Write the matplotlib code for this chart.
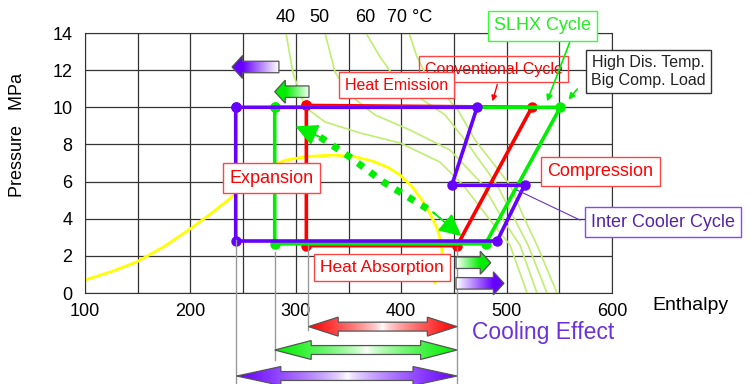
import numpy as np
import matplotlib
matplotlib.use('Agg')
import matplotlib.pyplot as plt
from matplotlib.patches import Polygon
from matplotlib.colors import LinearSegmentedColormap

plt.rcParams['font.family'] = ['Liberation Sans', 'DejaVu Sans']

RED = '#ff0000'
GREEN = '#00ee00'
PURPLE = '#6600ff'
ISO = '#bfee70'

# cycles: enthalpy (kJ/kg) and pressure (MPa)
conv_h = [310, 310, 453, 524, 310]
conv_p = [10.1, 2.55, 2.55, 10.0, 10.1]
slhx_h = [280, 280, 480, 551, 280]
slhx_p = [10.0, 2.65, 2.65, 10.0, 10.0]
ic_h = [243, 243, 491, 517, 448, 472, 243]
ic_p = [10.0, 2.8, 2.8, 5.8, 5.8, 10.0, 10.0]

# internal heat exchanger (dotted)
hx_h = [301, 323, 351, 383, 430, 456]
hx_p = [8.94, 8.4, 7.33, 5.98, 4.36, 3.12]

# saturation dome
dome_h = [100, 125, 149, 175, 201, 220, 240, 255, 273, 290, 311, 335, 355,
          373, 388, 399, 410, 421, 428, 434, 438, 439, 437, 432]
dome_p = [0.7, 1.15, 1.67, 2.5, 3.5, 4.3, 5.2, 5.95, 6.75, 7.15, 7.35, 7.43,
          7.35, 7.1, 6.75, 6.35, 5.75, 4.9, 4.2, 3.5, 2.7, 2.0, 1.0, 0.54]

# isotherms 40/50/60/70 C
iso_names = ['40', '50', '60', '70 °C']
iso_label_h = [281, 312.5, 356, 386.5]
iso40_h = [290.7, 297.3, 308.7, 327.7, 360.9, 398.9, 436.8, 458.6, 484.3, 503.2, 519.4]
iso40_p = [14.0, 11.85, 10.02, 9.21, 8.62, 8.08, 7.05, 5.82, 3.93, 2.58, 0.0]
iso50_h = [327.7, 337.2, 351.4, 375.1, 408.3, 446.3, 477.6, 496.6, 512.7, 528.8]
iso50_p = [14.0, 11.9, 10.66, 9.59, 8.78, 7.70, 5.82, 3.93, 2.58, 0.0]
iso60_h = [366.6, 379.9, 394.1, 417.8, 441.6, 460.5, 490.9, 508.0, 520.3, 538.3]
iso60_p = [14.0, 12.71, 11.58, 10.5, 9.59, 8.24, 5.82, 3.93, 2.58, 0.0]
iso70_h = [407.4, 415.0, 424.5, 439.7, 453.9, 470.0, 503.2, 517.5, 528.8, 547.8]
iso70_p = [14.0, 12.71, 11.63, 10.77, 9.85, 8.24, 5.82, 3.93, 2.58, 0.0]

# block arrows inside the chart: tail h, tip h, pressure
blk_tail = [284, 312.5, 452, 452]
blk_tip = [239.5, 280, 485, 497.5]
blk_p = [12.17, 10.84, 1.63, 0.52]
blk_col = [PURPLE, GREEN, GREEN, PURPLE]

# cooling effect arrows below the chart
ce_left = [312, 280, 244]
ce_right = [453, 453, 453]
ce_p = [-1.81, -3.07, -4.47]
ce_col = [RED, GREEN, PURPLE]

# guide lines
guide_h = [243, 280, 312, 453]
guide_top = [2.85, 2.22, 2.58, 2.5]
guide_bot = [-5.0, -3.6, -2.0, -5.0]

fig = plt.figure(figsize=(7.5, 3.84), dpi=100)
ax = fig.add_axes([85 / 750, 1 - 293 / 384, 527 / 750, 260 / 384])


def grad_fill(verts, xs, vals, color, y0, y1, z=5):
    cmap = LinearSegmentedColormap.from_list('g', ['white', color])
    poly = Polygon(verts, closed=True, facecolor='none', edgecolor='#555555',
                   lw=0.9, clip_on=False, zorder=z + 1)
    ax.add_patch(poly)
    im = ax.imshow(vals[np.newaxis, :], cmap=cmap, vmin=0, vmax=1,
                   extent=[xs[0], xs[-1], y0, y1], aspect='auto',
                   interpolation='bilinear', zorder=z)
    im.set_clip_path(poly)
    im.set_clip_box(fig.bbox)


def single_arrow(tail, tip, y, color):
    sh, hh, hl = 0.31, 0.62, 10
    d = np.sign(tip - tail)
    neck = tip - d * hl
    verts = [(tail, y + sh), (neck, y + sh), (neck, y + hh), (tip, y),
             (neck, y - hh), (neck, y - sh), (tail, y - sh)]
    xs = np.linspace(min(tail, tip), max(tail, tip), 200)
    vals = np.clip((xs - tail) / (neck - tail), 0, 1)
    grad_fill(verts, xs, vals, color, y - hh, y + hh)


def double_arrow(left, right, y, color):
    sh, hh = 0.24, 0.51
    hl = 0.2 * (right - left)
    verts = [(left, y), (left + hl, y + hh), (left + hl, y + sh),
             (right - hl, y + sh), (right - hl, y + hh), (right, y),
             (right - hl, y - hh), (right - hl, y - sh), (left + hl, y - sh),
             (left + hl, y - hh)]
    xs = np.linspace(left, right, 200)
    c = (left + right) / 2
    vals = (np.abs(xs - c) / (c - left)) ** 0.7
    grad_fill(verts, xs, vals, color, y - hh, y + hh)


# isotherms and dome
for hh_, pp_ in [(iso40_h, iso40_p), (iso50_h, iso50_p), (iso60_h, iso60_p), (iso70_h, iso70_p)]:
    ax.plot(hh_, pp_, color=ISO, lw=1.2, zorder=2)
for name, h in zip(iso_names, iso_label_h):
    ax.text(h, 14.81, name, fontsize=13, ha='left', va='center')
ax.plot(dome_h, dome_p, color='#ffff00', lw=2, zorder=2, solid_joinstyle='round')

# cycles
ax.plot(conv_h, conv_p, color=RED, lw=2.6, marker='o', ms=6.5, zorder=3)
ax.plot(slhx_h, slhx_p, color=GREEN, lw=2.6, marker='o', ms=6.5, zorder=3.1)
ax.plot(ic_h, ic_p, color=PURPLE, lw=2.6, marker='o', ms=6.5, zorder=3.2)

# SLHX heat exchange
ax.plot(hx_h[1:-1], hx_p[1:-1], color=GREEN, lw=5, ls=(0, (1, 1.2)), zorder=3.3)
for (xa, ya), (xb, yb) in [((hx_h[0], hx_p[0]), (hx_h[1], hx_p[1])),
                           ((hx_h[-1], hx_p[-1]), (hx_h[-2], hx_p[-2]))]:
    ax.annotate('', xy=(xa, ya), xytext=(xb, yb),
                arrowprops=dict(facecolor=GREEN, edgecolor=GREEN, width=0.1,
                                headwidth=14, headlength=14, shrink=0),
                zorder=3.3)

# guide lines
for h, t, b in zip(guide_h, guide_top, guide_bot):
    ax.plot([h, h], [t, b], color='#999999', lw=1, clip_on=False, zorder=4)

for t, tp, p, c in zip(blk_tail, blk_tip, blk_p, blk_col):
    single_arrow(t, tp, p, c)
for l, r, p, c in zip(ce_left, ce_right, ce_p, ce_col):
    double_arrow(l, r, p, c)


# annotation boxes
def box(x, y, s, color, ec, size, fc='white'):
    ax.text(x, y, s, color=color, fontsize=size, ha='center', va='center',
            zorder=8, bbox=dict(boxstyle='square,pad=0.35', fc=fc, ec=ec, lw=1))


box(534, 14.38, 'SLHX Cycle', '#22ee22', '#33ff33', 13)
box(634.6, 11.93, 'High Dis. Temp.\nBig Comp. Load', '#222222', '#333333', 11.5)
box(488, 12.06, 'Conventional Cycle', RED, '#ff4444', 11.5, fc='none')
box(395.5, 11.2, 'Heat Emission', RED, '#ff4444', 11.5)
box(277, 6.19, 'Expansion', RED, '#ff4444', 13)
box(589, 6.54, 'Compression', RED, '#ff4444', 13)
box(648.4, 3.82, 'Inter Cooler Cycle', '#5522aa', '#8844ff', 13)
box(382, 1.37, 'Heat Absorption', RED, '#ff4444', 12.5)

ax.annotate('', xy=(485.9, 10.18), xytext=(491.9, 11.37),
            arrowprops=dict(arrowstyle='-|>', color=RED, lw=1, mutation_scale=8), zorder=8)
ax.annotate('', xy=(537.4, 10.18), xytext=(560.7, 13.62),
            arrowprops=dict(arrowstyle='-|>', color=GREEN, lw=1.2, mutation_scale=9), zorder=8)
ax.annotate('', xy=(557, 10.3), xytext=(568.7, 11.1),
            arrowprops=dict(arrowstyle='-|>', color=GREEN, lw=1.2, mutation_scale=9), zorder=8)
ax.plot([509.6, 569.6], [5.55, 3.93], color='#6633cc', lw=0.8, clip_on=False, zorder=4)

ax.text(534.5, -2.1, 'Cooling Effect', color='#6a32d8', fontsize=16.5, ha='center', va='center')
ax.text(674, -0.65, 'Enthalpy', fontsize=14, ha='center', va='center')
fig.text(18 / 750, 1 - 135 / 384, 'Pressure   MPa', fontsize=13, rotation=90,
         ha='center', va='center')

xt = np.arange(100, 601, 50)
ax.set_xticks(xt)
ax.set_xticklabels([str(v) if v % 100 == 0 else '' for v in xt])
ax.set_yticks(np.arange(0, 15, 2))
ax.tick_params(length=0, labelsize=13)
ax.tick_params(axis='y', pad=9)
ax.tick_params(axis='x', pad=7)
ax.grid(True, color='#333333', lw=0.9)
ax.set_axisbelow(True)
for s in ax.spines.values():
    s.set_color('#333333')
ax.set_xlim(100, 600)
ax.set_ylim(0, 14)

fig.savefig('out.png', dpi=100)
